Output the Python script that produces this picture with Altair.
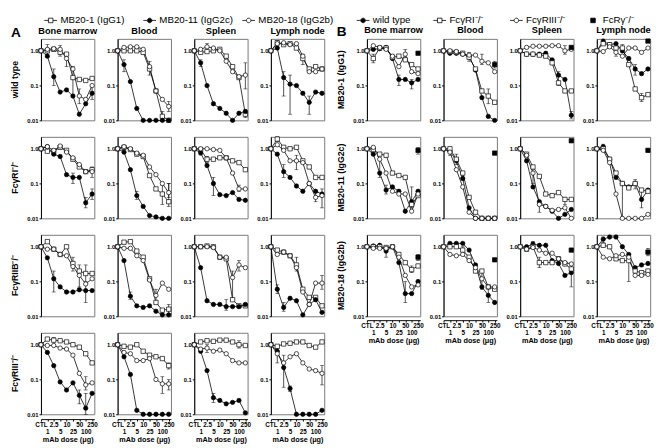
import altair as alt
import pandas as pd

doses = ["CTL", "1", "2.5", "5", "10", "25", "50", "100", "250"]
tissues = ["Bone marrow", "Blood", "Spleen", "Lymph node"]
genos_A = ["wild type", "FcγRI⁻/⁻", "FcγRIIB⁻/⁻", "FcγRIII⁻/⁻"]
abs_A = ["MB20-1 (IgG1)", "MB20-11 (IgG2c)", "MB20-18 (IgG2b)"]
genos_B = ["wild type", "FcγRI⁻/⁻", "FcγRIII⁻/⁻", "FcRγ⁻/⁻"]

# ---------- Panel A means: [IgG1 (open square), IgG2c (filled circle), IgG2b (open circle)]
A_wt_bm = [[1.0, 1.0, 1.1, 0.9, 0.8, 0.17, 0.15, 0.14, 0.16],
           [1.0, 0.7, 0.18, 0.065, 0.075, 0.05, 0.015, 0.03, 0.06],
           [1.0, 1.1, 1.15, 1.1, 0.6, 0.3, 0.05, 0.04, 0.1]]
A_wt_bl = [[1.0, 1.0, 1.0, 1.0, 0.9, 0.3, 0.07, 0.013, 0.01],
           [1.0, 0.4, 0.13, 0.022, 0.01, 0.01, 0.01, 0.01, 0.01],
           [1.0, 1.25, 1.3, 1.3, 1.1, 0.35, 0.07, 0.04, 0.025]]
A_wt_sp = [[1.0, 0.9, 0.95, 1.0, 1.1, 0.7, 0.35, 0.17, 0.015],
           [1.0, 0.45, 0.1, 0.03, 0.022, 0.016, 0.01, 0.016, 0.018],
           [1.0, 1.1, 1.3, 1.2, 1.0, 0.5, 0.25, 0.18, 0.2]]
A_wt_ln = [[1.0, 1.7, 1.5, 1.6, 1.2, 0.6, 0.3, 0.35, 0.3],
           [1.0, 1.2, 0.17, 0.11, 0.1, 0.06, 0.033, 0.065, 0.06],
           [1.0, 1.6, 1.7, 1.5, 1.6, 0.7, 0.25, 0.25, 0.3]]
A_r1_bm = [[1.0, 0.85, 0.85, 1.1, 0.9, 0.5, 0.3, 0.22, 0.25],
           [1.0, 1.15, 0.7, 0.6, 0.18, 0.15, 0.15, 0.028, 0.05],
           [1.0, 1.15, 0.9, 1.2, 0.8, 0.55, 0.35, 0.22, 0.22]]
A_r1_bl = [[1.0, 1.1, 0.95, 0.7, 0.6, 0.17, 0.07, 0.05, 0.03],
           [1.0, 0.8, 0.25, 0.045, 0.022, 0.012, 0.011, 0.01, 0.01],
           [1.0, 1.15, 1.0, 0.75, 0.65, 0.3, 0.18, 0.1, 0.055]]
A_r1_sp = [[1.0, 0.95, 0.5, 0.5, 0.55, 0.55, 0.45, 0.4, 0.25],
           [1.0, 0.75, 0.33, 0.1, 0.048, 0.045, 0.055, 0.035, 0.033],
           [1.0, 1.0, 1.0, 0.95, 0.9, 0.55, 0.2, 0.07, 0.07]]
A_r1_ln = [[1.0, 1.9, 1.1, 1.0, 1.1, 0.45, 0.3, 0.15, 0.15],
           [1.0, 0.7, 0.22, 0.15, 0.085, 0.06, 0.1, 0.06, 0.05],
           [1.0, 1.3, 0.9, 0.45, 0.45, 0.4, 0.1, 0.04, 0.045]]
A_r2b_bm = [[1.0, 1.4, 0.85, 0.6, 1.0, 0.33, 0.2, 0.17, 0.17],
            [1.0, 0.48, 0.12, 0.07, 0.05, 0.05, 0.058, 0.055, 0.055],
            [1.0, 0.85, 0.85, 0.6, 0.55, 0.27, 0.15, 0.085, 0.12]]
A_r2b_bl = [[1.0, 1.35, 1.4, 0.75, 0.5, 0.12, 0.025, 0.015, 0.016],
            [1.0, 0.4, 0.038, 0.02, 0.018, 0.02, 0.014, 0.011, 0.011],
            [1.0, 0.9, 0.9, 0.55, 0.4, 0.11, 0.04, 0.09, 0.06]]
A_r2b_sp = [[1.0, 1.0, 1.05, 1.0, 0.5, 0.45, 0.03, 0.02, 0.02],
            [1.0, 0.25, 0.028, 0.022, 0.022, 0.019, 0.019, 0.019, 0.022],
            [1.0, 1.0, 1.0, 0.95, 0.5, 0.5, 0.13, 0.3, 0.25]]
A_r2b_ln = [[1.0, 0.8, 0.7, 0.55, 0.3, 0.06, 0.035, 0.035, 0.02],
            [1.0, 0.06, 0.018, 0.033, 0.028, 0.011, 0.022, 0.03, 0.013],
            [1.0, 0.6, 0.7, 0.55, 0.25, 0.05, 0.022, 0.09, 0.09]]
A_r3_bm = [[1.0, 1.45, 1.35, 1.3, 1.2, 1.0, 0.85, 0.55, 0.3],
           [1.0, 0.6, 0.25, 0.085, 0.05, 0.08, 0.035, 0.015, 0.04],
           [1.0, 0.95, 0.95, 0.8, 0.75, 0.5, 0.15, 0.07, 0.08]]
A_r3_bl = [[1.0, 0.9, 0.85, 1.0, 0.65, 0.5, 0.45, 0.4, 0.25],
           [1.0, 0.45, 0.14, 0.013, 0.01, 0.01, 0.01, 0.01, 0.01],
           [1.0, 0.6, 0.55, 0.35, 0.35, 0.4, 0.1, 0.075, 0.075]]
A_r3_sp = [[1.0, 1.2, 1.3, 1.25, 1.35, 1.35, 1.2, 1.0, 0.95],
           [1.0, 0.65, 0.18, 0.03, 0.025, 0.02, 0.022, 0.025, 0.011],
           [1.0, 0.75, 0.8, 0.65, 0.7, 0.55, 0.35, 0.3, 0.3]]
A_r3_ln = [[1.0, 0.9, 1.05, 1.1, 1.2, 1.2, 0.95, 0.85, 1.2],
           [1.0, 0.65, 0.22, 0.055, 0.01, 0.01, 0.01, 0.01, 0.013],
           [1.0, 0.55, 0.3, 0.45, 0.55, 0.3, 0.2, 0.18, 0.15]]

# ---------- Panel B means: [wild type (filled circle), FcgRI (open square), FcgRIII (open circle)]
B_g1_bm = [[1.0, 1.1, 1.15, 1.25, 0.6, 0.15, 0.15, 0.12, 0.15],
           [1.0, 0.6, 1.2, 1.2, 0.65, 0.7, 0.55, 0.4, 0.3],
           [1.0, 1.4, 1.25, 1.1, 0.7, 0.35, 0.8, 0.25, 0.22]]
B_g1_bl = [[1.0, 0.85, 0.85, 0.8, 0.7, 0.28, 0.045, 0.013, 0.01],
           [1.0, 0.95, 0.9, 0.85, 0.65, 0.3, 0.07, 0.05, 0.033],
           [1.0, 1.0, 0.95, 0.8, 0.75, 0.75, 0.5, 0.45, 0.25]]
B_g1_sp = [[1.0, 0.8, 0.8, 0.8, 0.85, 0.55, 0.2, 0.15, 0.014],
           [1.0, 0.8, 0.8, 0.75, 0.7, 0.45, 0.12, 0.07, 0.07],
           [1.0, 1.25, 1.35, 1.35, 1.35, 1.4, 1.4, 1.0, 1.1]]
B_g1_ln = [[1.0, 1.9, 1.5, 1.6, 1.0, 0.6, 0.3, 0.22, 0.3],
           [1.0, 1.6, 1.5, 1.2, 1.2, 0.4, 0.08, 0.045, 0.055],
           [1.0, 0.95, 1.3, 0.9, 0.7, 1.2, 1.2, 0.9, 1.2]]
B_g2c_bm = [[1.0, 0.7, 0.2, 0.065, 0.08, 0.06, 0.016, 0.03, 0.06],
            [1.0, 0.95, 0.7, 0.65, 0.2, 0.17, 0.15, 0.025, 0.045],
            [1.0, 1.1, 0.5, 0.2, 0.06, 0.05, 0.05, 0.016, 0.05]]
B_g2c_bl = [[1.0, 0.85, 0.45, 0.14, 0.02, 0.01, 0.01, 0.01, 0.01],
            [1.0, 1.0, 0.5, 0.2, 0.04, 0.015, 0.01, 0.01, 0.01],
            [1.0, 0.8, 0.25, 0.08, 0.015, 0.01, 0.01, 0.01, 0.01]]
B_g2c_sp = [[1.0, 0.45, 0.08, 0.03, 0.022, 0.016, 0.01, 0.013, 0.018],
            [1.0, 0.7, 0.3, 0.16, 0.05, 0.045, 0.055, 0.035, 0.035],
            [1.0, 0.65, 0.2, 0.025, 0.022, 0.017, 0.018, 0.02, 0.01]]
B_g2c_ln = [[1.0, 1.15, 0.5, 0.15, 0.1, 0.08, 0.1, 0.035, 0.065],
            [1.0, 1.0, 0.5, 0.2, 0.1, 0.075, 0.1, 0.065, 0.06],
            [1.0, 0.9, 0.4, 0.05, 0.01, 0.01, 0.01, 0.01, 0.013]]
B_g2b_bm = [[1.0, 1.05, 1.1, 0.75, 1.0, 0.35, 0.045, 0.045, 0.1],
            [1.0, 1.0, 1.0, 0.95, 1.0, 0.6, 0.35, 0.22, 0.28],
            [1.0, 0.9, 0.9, 0.9, 1.0, 0.5, 0.15, 0.07, 0.08]]
B_g2b_bl = [[1.0, 1.25, 1.25, 1.25, 0.8, 0.3, 0.07, 0.04, 0.025],
            [1.0, 1.0, 1.0, 0.8, 0.5, 0.2, 0.2, 0.07, 0.06],
            [1.0, 0.6, 0.55, 0.6, 0.4, 0.25, 0.12, 0.07, 0.07]]
B_g2b_sp = [[1.0, 1.0, 1.2, 1.1, 1.1, 0.4, 0.33, 0.15, 0.18],
            [1.0, 0.85, 1.0, 0.35, 0.35, 0.35, 0.45, 0.32, 0.23],
            [1.0, 0.85, 0.95, 0.8, 0.65, 0.65, 0.45, 0.35, 0.32]]
B_g2b_ln = [[1.0, 1.65, 1.9, 1.9, 1.0, 0.6, 0.25, 0.3, 0.33],
            [1.0, 1.1, 1.0, 0.45, 0.4, 0.4, 0.2, 0.18, 0.2],
            [1.0, 0.5, 0.45, 0.55, 0.6, 0.5, 0.15, 0.15, 0.16]]
# FcRg-/- value at 250 ug, per antibody row, per tissue
B_fcrg_g1 = [0.85, 0.4, 1.25, 1.9]
B_fcrg_g2c = [0.9, 0.75, 1.7, 0.9]
B_fcrg_g2b = [0.5, 0.42, 0.8, 0.7]

# ---------- error bars: (series index, dose index, low, high)
E_A_wt_bm = [(1, 2, 0.1, 0.3), (2, 5, 0.05, 0.35), (2, 6, 0.03, 0.08), (1, 8, 0.04, 0.1),
             (2, 1, 0.8, 1.5), (0, 3, 0.7, 1.4), (2, 4, 0.35, 0.9)]
E_A_wt_bl = [(1, 1, 0.25, 0.55), (2, 8, 0.018, 0.035), (0, 7, 0.01, 0.018), (2, 5, 0.2, 0.5)]
E_A_wt_sp = [(2, 8, 0.08, 0.45), (0, 8, 0.012, 0.02), (2, 2, 1.0, 1.6), (1, 1, 0.35, 0.55)]
E_A_wt_ln = [(1, 2, 0.05, 0.25), (1, 3, 0.015, 0.2), (1, 6, 0.015, 0.05), (2, 1, 1.2, 2.0), (0, 5, 0.4, 0.8)]
E_A_r1_bm = [(1, 8, 0.035, 0.07), (1, 7, 0.02, 0.04), (2, 8, 0.15, 0.3), (1, 5, 0.1, 0.2)]
E_A_r1_bl = [(0, 8, 0.022, 0.1), (0, 7, 0.025, 0.09), (2, 8, 0.04, 0.1), (1, 3, 0.035, 0.06)]
E_A_r1_sp = [(1, 3, 0.045, 0.15), (0, 2, 0.4, 0.6), (2, 7, 0.06, 0.09)]
E_A_r1_ln = [(1, 8, 0.02, 0.07), (0, 1, 1.6, 2.2), (1, 2, 0.15, 0.35), (2, 4, 0.25, 0.65), (2, 7, 0.03, 0.06)]
E_A_r2b_bm = [(1, 2, 0.05, 0.2), (1, 7, 0.025, 0.08), (2, 6, 0.07, 0.3), (0, 7, 0.1, 0.3), (0, 5, 0.2, 0.5)]
E_A_r2b_bl = [(2, 6, 0.025, 0.06), (0, 8, 0.012, 0.022), (1, 2, 0.03, 0.05)]
E_A_r2b_sp = [(2, 6, 0.03, 0.2), (1, 5, 0.015, 0.03), (2, 7, 0.2, 0.4)]
E_A_r2b_ln = [(1, 1, 0.045, 0.08), (0, 4, 0.2, 0.5), (2, 8, 0.06, 0.15), (1, 2, 0.014, 0.025)]
E_A_r3_bm = [(1, 7, 0.01, 0.04), (2, 7, 0.05, 0.12), (1, 6, 0.02, 0.05), (0, 2, 1.0, 1.6)]
E_A_r3_bl = [(2, 7, 0.04, 0.12), (2, 8, 0.05, 0.1), (0, 8, 0.2, 0.3)]
E_A_r3_sp = [(0, 7, 0.8, 1.3), (2, 2, 0.6, 1.0), (1, 3, 0.022, 0.04)]
E_A_r3_ln = [(1, 2, 0.06, 0.5), (2, 1, 0.3, 0.8), (2, 8, 0.07, 0.25), (1, 3, 0.045, 0.065)]
E_B_g1_bm = [(0, 7, 0.08, 0.15), (1, 1, 0.45, 0.8), (2, 6, 0.6, 1.1), (0, 5, 0.1, 0.2)]
E_B_g1_bl = [(0, 4, 0.5, 0.9), (2, 6, 0.4, 0.8), (1, 7, 0.03, 0.08), (3, 8, 0.32, 0.5)]
E_B_g1_sp = [(0, 6, 0.1, 0.25), (0, 8, 0.011, 0.018), (2, 7, 0.8, 1.4)]
E_B_g1_ln = [(1, 3, 0.7, 1.5), (1, 7, 0.035, 0.06), (0, 6, 0.2, 0.4), (1, 4, 0.9, 1.5)]
E_B_g2c_bm = [(0, 3, 0.05, 0.09), (2, 2, 0.15, 0.5), (0, 7, 0.02, 0.08), (3, 8, 0.7, 1.1)]
E_B_g2c_bl = [(1, 2, 0.35, 0.7), (2, 1, 0.65, 1.0)]
E_B_g2c_sp = [(1, 2, 0.1, 0.3), (2, 3, 0.015, 0.03), (1, 7, 0.025, 0.04)]
E_B_g2c_ln = [(2, 4, 0.01, 0.1), (0, 7, 0.02, 0.06), (1, 6, 0.07, 0.13), (0, 1, 1.0, 1.35)]
E_B_g2b_bm = [(0, 6, 0.025, 0.1), (0, 3, 0.5, 1.0), (1, 7, 0.18, 0.28), (3, 8, 0.4, 0.6)]
E_B_g2b_bl = [(0, 7, 0.025, 0.07), (2, 6, 0.06, 0.2), (1, 3, 0.55, 1.0)]
E_B_g2b_sp = [(0, 8, 0.07, 0.35), (1, 3, 0.25, 0.5), (0, 2, 1.0, 1.4)]
E_B_g2b_ln = [(2, 5, 0.1, 0.6), (0, 1, 1.3, 1.9), (3, 8, 0.55, 0.9)]

# ---------- build long tables
A_grid = [[A_wt_bm, A_wt_bl, A_wt_sp, A_wt_ln],
          [A_r1_bm, A_r1_bl, A_r1_sp, A_r1_ln],
          [A_r2b_bm, A_r2b_bl, A_r2b_sp, A_r2b_ln],
          [A_r3_bm, A_r3_bl, A_r3_sp, A_r3_ln]]
A_err = [[E_A_wt_bm, E_A_wt_bl, E_A_wt_sp, E_A_wt_ln],
         [E_A_r1_bm, E_A_r1_bl, E_A_r1_sp, E_A_r1_ln],
         [E_A_r2b_bm, E_A_r2b_bl, E_A_r2b_sp, E_A_r2b_ln],
         [E_A_r3_bm, E_A_r3_bl, E_A_r3_sp, E_A_r3_ln]]
rows = []
for gi, g in enumerate(genos_A):
    for ti, t in enumerate(tissues):
        for si, s in enumerate(abs_A):
            for di, v in enumerate(A_grid[gi][ti][si]):
                rows.append({"kind": "pt", "row": g, "tissue": t, "series": s, "idx": di, "value": v})
        for si, di, lo, hi in A_err[gi][ti]:
            rows.append({"kind": "err", "row": g, "tissue": t, "series": abs_A[si], "idx": di, "lo": lo, "hi": hi})
dfA = pd.DataFrame(rows)

B_grid = [[B_g1_bm, B_g1_bl, B_g1_sp, B_g1_ln],
          [B_g2c_bm, B_g2c_bl, B_g2c_sp, B_g2c_ln],
          [B_g2b_bm, B_g2b_bl, B_g2b_sp, B_g2b_ln]]
B_err = [[E_B_g1_bm, E_B_g1_bl, E_B_g1_sp, E_B_g1_ln],
         [E_B_g2c_bm, E_B_g2c_bl, E_B_g2c_sp, E_B_g2c_ln],
         [E_B_g2b_bm, E_B_g2b_bl, E_B_g2b_sp, E_B_g2b_ln]]
B_fcrg = [B_fcrg_g1, B_fcrg_g2c, B_fcrg_g2b]
rows = []
for ai, a in enumerate(abs_A):
    for ti, t in enumerate(tissues):
        for si, s in enumerate(genos_B[:3]):
            for di, v in enumerate(B_grid[ai][ti][si]):
                rows.append({"kind": "pt", "row": a, "tissue": t, "series": s, "idx": di, "value": v})
        rows.append({"kind": "pt", "row": a, "tissue": t, "series": genos_B[3], "idx": 8, "value": B_fcrg[ai][ti]})
        for si, di, lo, hi in B_err[ai][ti]:
            rows.append({"kind": "err", "row": a, "tissue": t, "series": genos_B[si], "idx": di, "lo": lo, "hi": hi})
dfB = pd.DataFrame(rows)

FONT = "Liberation Sans"
W, H = 55, 84
label_js = "[" + ",".join("'" + d + "'" for d in doses) + "]"
yscale = alt.Scale(type="log", domain=[0.01, 2.2], nice=False)
yaxis = alt.Axis(values=[0.01, 0.1, 1],
                 labelExpr="datum.value >= 1 ? '1.0' : (datum.value >= 0.1 ? '0.1' : '0.01')",
                 labelFontSize=6, labelFontWeight="bold", tickSize=2, labelPadding=1,
                 title=None, grid=False, domainColor="black", tickColor="black")

x_enc = alt.X("idx:Q",
              scale=alt.Scale(domain=[0, 8.35], nice=False, zero=False),
              axis=alt.Axis(values=list(range(9)), labelExpr=label_js + "[datum.value]",
                            labelOverlap=False, labelFlush=False, labelFontSize=6.5,
                            labelFontWeight="bold", tickSize=2,
                            labelPadding={"condition": {"test": "datum.value % 2 == 1", "value": 8}, "value": 1},
                            title="mAb dose (μg)", titleFontSize=7.5, titleFontWeight="bold",
                            titlePadding=1, grid=False, domainColor="black", tickColor="black"))
y_enc = alt.Y("value:Q", scale=yscale, axis=yaxis)


def panel(df, series, shapes, fills, row_sort, title):
    pts_only = "datum.kind == 'pt'"
    err_only = "datum.kind == 'err'"
    stems = alt.Chart().transform_filter(err_only).mark_rule(color="black", strokeWidth=0.7).encode(
        x=x_enc, y=alt.Y("lo:Q", scale=yscale, axis=yaxis), y2="hi:Q")
    caps = alt.Chart().transform_filter(err_only).transform_fold(["lo", "hi"], as_=["end", "yv"]).mark_tick(
        color="black", thickness=0.7, size=4, orient="horizontal").encode(
        x=x_enc, y=alt.Y("yv:Q", scale=yscale, axis=yaxis))
    lines = alt.Chart().transform_filter(pts_only).mark_line(color="black", strokeWidth=0.8).encode(
        x=x_enc, y=y_enc, detail="series:N")
    pts = alt.Chart().transform_filter(pts_only).mark_point(
        filled=True, size=20, stroke="black", strokeWidth=0.7, opacity=1).encode(
        x=x_enc, y=y_enc,
        shape=alt.Shape("series:N", scale=alt.Scale(domain=series, range=shapes), legend=None),
        fill=alt.Fill("series:N", scale=alt.Scale(domain=series, range=fills), legend=None))
    return alt.layer(stems, caps, lines, pts, data=df).properties(width=W, height=H).facet(
        row=alt.Row("row:N", sort=row_sort,
                    header=alt.Header(title=None, labelAngle=-90, labelOrient="left",
                                      labelFontSize=9, labelFontWeight="bold", labelFont=FONT,
                                      labelPadding=2)),
        column=alt.Column("tissue:N", sort=tissues,
                          header=alt.Header(title=None, labelFontSize=9.5, labelFontWeight="bold",
                                            labelFont=FONT, labelPadding=3)),
        spacing={"row": 10, "column": 6},
        title=alt.TitleParams(title, anchor="start", fontSize=14, fontWeight="bold", font=FONT, offset=-15),
    ).resolve_axis(y="independent")


facetA = panel(dfA, abs_A, ["square", "circle", "circle"], ["white", "black", "white"], genos_A, "A")
facetB = panel(dfB, genos_B, ["circle", "square", "circle", "square"],
               ["black", "white", "white", "black"], abs_A, "B")

# ---------- legends (symbol with line through it)
SQ = "M-2.8,0H-1M1,0H2.8M-1,-1H1V1H-1Z"
CI = "M-2.8,0H-1M1,0H2.8M1,0A1,1 0 1,1 -1,0A1,1 0 1,1 1,0Z"
SQF = "M-1,-1H1V1H-1Z"


def legend(labels, paths, fills, dom, width):
    d = pd.DataFrame({"entry": labels, "idx": list(range(len(labels)))})
    base = alt.Chart(d).encode(x=alt.X("idx:Q", scale=alt.Scale(domain=dom, nice=False, zero=False), axis=None))
    sym = base.mark_point(filled=True, size=22, stroke="black", strokeWidth=0.8, opacity=1).encode(
        shape=alt.Shape("entry:N", scale=alt.Scale(domain=labels, range=paths), legend=None),
        fill=alt.Fill("entry:N", scale=alt.Scale(domain=labels, range=fills), legend=None))
    txt = base.mark_text(align="left", dx=10, fontSize=10, font=FONT, color="black").encode(text="entry:N")
    return alt.layer(sym, txt).properties(width=width, height=8,
                                          view=alt.ViewBackground(stroke="transparent"))


legA = legend(abs_A, [SQ, CI, CI], ["white", "black", "white"], [-0.098, 2.94], 310)
legB = legend(genos_B, [CI, SQ, CI, SQF], ["black", "white", "white", "black"], [-0.127, 3.67], 300)

top = alt.hconcat(legA, legB, spacing=10).resolve_scale(shape="independent", fill="independent")
body = alt.hconcat(facetA, facetB, spacing=8).resolve_scale(shape="independent", fill="independent")

chart = alt.vconcat(top, body, spacing=-2).resolve_scale(
    shape="independent", fill="independent"
).properties(padding={"left": 2, "top": 0, "right": 2, "bottom": 0}).configure_view(
    stroke="#777", strokeWidth=1
).configure_axis(labelFont=FONT, titleFont=FONT).configure_text(font=FONT)

chart.save("out.html", embed_options={"renderer": "svg", "actions": False})
